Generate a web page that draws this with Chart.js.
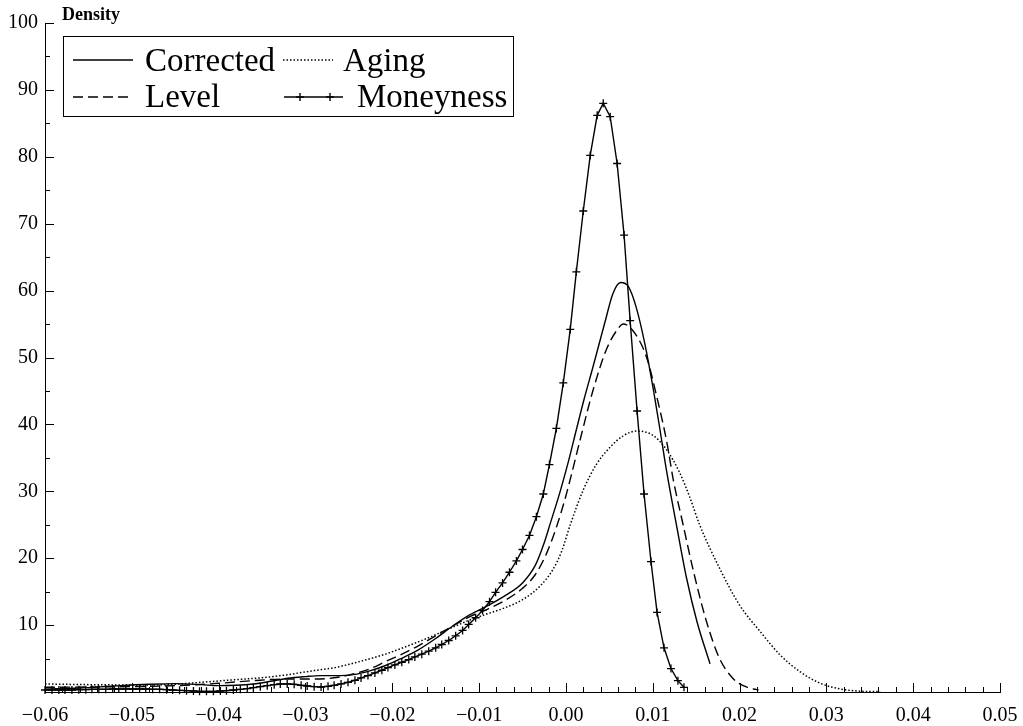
<!DOCTYPE html>
<html>
<head>
<meta charset="utf-8">
<script src="https://cdn.jsdelivr.net/npm/chart.js@4.4.1/dist/chart.umd.min.js"></script>
<style>
  html, body { margin: 0; padding: 0; background: #fff; }
  #wrap { width: 1023px; height: 726px; }
</style>
</head>
<body>
<div id="wrap"><canvas id="grafico" width="1023" height="726"></canvas></div>
<script>
// Eixos
const xTicks = [-0.06, -0.05, -0.04, -0.03, -0.02, -0.01, 0, 0.01, 0.02, 0.03, 0.04, 0.05];
const xTickLabels = ['\u22120.06', '\u22120.05', '\u22120.04', '\u22120.03', '\u22120.02', '\u22120.01', '0.00', '0.01', '0.02', '0.03', '0.04', '0.05'];
const yTicks = [0, 10, 20, 30, 40, 50, 60, 70, 80, 90, 100];
const yTickLabels = ['', '10', '20', '30', '40', '50', '60', '70', '80', '90', '100'];

// Corrected
const xCorr = [-0.0600, -0.0560, -0.0520, -0.0480, -0.0450, -0.0420, -0.0400, -0.0380, -0.0360, -0.0340,
  -0.0320, -0.0300, -0.0283, -0.0265, -0.0245, -0.0225, -0.0207, -0.0190, -0.0170, -0.0150,
  -0.0130, -0.0110, -0.0090, -0.0070, -0.0050, -0.0035, -0.0025, -0.0018, -0.0007, 0.0003,
  0.0012, 0.0021, 0.0031, 0.0045, 0.0054, 0.0063, 0.0072, 0.0081, 0.0091, 0.0101,
  0.0108, 0.0116, 0.0128, 0.0139, 0.0151, 0.0166];
const yCorr = [0.45, 0.6, 0.9, 1.15, 1.25, 1.1, 0.95, 1.0, 1.2, 1.6,
  2.05, 2.3, 2.45, 2.45, 2.6, 3.2, 4.0, 5.0, 6.3, 8.0,
  9.9, 11.6, 12.9, 14.4, 16.3, 19.0, 22.3, 25.2, 29.8, 34.5,
  39.2, 43.8, 48.5, 55.3, 59.5, 61.2, 60.6, 57.5, 52.0, 45.0,
  39.5, 33.0, 24.5, 17.0, 10.5, 4.2];

// Level
const xLevel = [-0.0600, -0.0550, -0.0500, -0.0450, -0.0400, -0.0360, -0.0320, -0.0283, -0.0260, -0.0245,
  -0.0225, -0.0207, -0.0190, -0.0170, -0.0150, -0.0130, -0.0110, -0.0090, -0.0070, -0.0050,
  -0.0035, -0.0022, -0.0010, 0.0001, 0.0016, 0.0031, 0.0047, 0.0060, 0.0066, 0.0079,
  0.0093, 0.0104, 0.0116, 0.0124, 0.0135, 0.0147, 0.0162, 0.0177, 0.0193, 0.0205,
  0.0216, 0.0222];
const yLevel = [0.7, 0.75, 0.8, 0.95, 1.3, 1.7, 1.95, 1.95, 2.25, 2.7,
  3.5, 4.6, 5.6, 6.9, 8.4, 9.9, 11.3, 12.4, 13.7, 15.5,
  17.6, 20.8, 25.0, 29.8, 37.5, 45.0, 51.3, 54.3, 55.0, 53.7,
  50.0, 44.5, 37.5, 31.5, 25.0, 18.0, 10.5, 5.0, 1.95, 0.9,
  0.45, 0.3];

// Aging
const xAging = [-0.0600, -0.0550, -0.0500, -0.0460, -0.0420, -0.0380, -0.0345, -0.0320, -0.0290, -0.0268,
  -0.0245, -0.0207, -0.0190, -0.0170, -0.0153, -0.0130, -0.0110, -0.0090, -0.0070, -0.0050,
  -0.0030, -0.0015, -0.0005, 0.0005, 0.0020, 0.0035, 0.0051, 0.0066, 0.0082, 0.0101,
  0.0116, 0.0131, 0.0143, 0.0154, 0.0177, 0.0200, 0.0224, 0.0247, 0.0270, 0.0293,
  0.0316, 0.0339, 0.0362];
const yAging = [1.2, 1.1, 1.05, 1.1, 1.45, 1.85, 2.2, 2.6, 3.2, 3.6,
  4.3, 5.7, 6.5, 7.5, 8.4, 9.7, 10.8, 11.7, 12.6, 13.8,
  15.8, 18.3, 21.0, 25.0, 30.2, 34.0, 36.6, 38.3, 39.0, 38.3,
  36.2, 32.8, 29.0, 25.0, 18.5, 13.0, 9.0, 5.5, 3.0, 1.3,
  0.45, 0.12, 0.05];

// Moneyness (com marcadores)
const xMoney = [-0.0600, -0.0592, -0.0584, -0.0577, -0.0569, -0.0561, -0.0553, -0.0546, -0.0538, -0.0530,
  -0.0522, -0.0515, -0.0507, -0.0499, -0.0491, -0.0484, -0.0476, -0.0468, -0.0460, -0.0453,
  -0.0445, -0.0437, -0.0429, -0.0422, -0.0414, -0.0406, -0.0398, -0.0391, -0.0383, -0.0375,
  -0.0367, -0.0360, -0.0352, -0.0344, -0.0336, -0.0329, -0.0321, -0.0313, -0.0305, -0.0298,
  -0.0290, -0.0282, -0.0274, -0.0267, -0.0259, -0.0251, -0.0243, -0.0236, -0.0228, -0.0220,
  -0.0212, -0.0205, -0.0197, -0.0189, -0.0181, -0.0174, -0.0166, -0.0158, -0.0150, -0.0143,
  -0.0135, -0.0127, -0.0119, -0.0112, -0.0104, -0.0096, -0.0088, -0.0081, -0.0073, -0.0065,
  -0.0057, -0.0050, -0.0042, -0.0034, -0.0026, -0.0019, -0.0011, -0.0003, 0.0005, 0.0012,
  0.0020, 0.0028, 0.0036, 0.0043, 0.0051, 0.0059, 0.0067, 0.0074, 0.0082, 0.0090,
  0.0098, 0.0105, 0.0113, 0.0121, 0.0129, 0.0136];
const yMoney = [0.3, 0.3, 0.3, 0.3, 0.3, 0.35, 0.35, 0.4, 0.4, 0.4,
  0.45, 0.45, 0.45, 0.45, 0.45, 0.45, 0.4, 0.4, 0.35, 0.3,
  0.25, 0.2, 0.15, 0.1, 0.1, 0.1, 0.15, 0.2, 0.3, 0.4,
  0.5, 0.65, 0.8, 0.95, 1.1, 1.2, 1.2, 1.15, 1.0, 0.9,
  0.8, 0.75, 0.85, 1.0, 1.2, 1.45, 1.75, 2.1, 2.45, 2.85,
  3.25, 3.65, 4.05, 4.45, 4.85, 5.25, 5.65, 6.1, 6.6, 7.1,
  7.7, 8.4, 9.2, 10.1, 11.1, 12.2, 13.5, 14.9, 16.3, 17.9,
  19.6, 21.3, 23.4, 26.2, 29.6, 34.0, 39.4, 46.2, 54.2, 62.8,
  71.9, 80.2, 86.2, 88.0, 86.0, 79.0, 68.3, 55.5, 42.0, 29.6,
  19.5, 11.9, 6.6, 3.5, 1.7, 0.7];

const pares = (xs, ys) => xs.map((x, i) => ({ x: x, y: ys[i] }));

// Ticks internos, título e legenda em caixa
const extras = {
  id: 'extras',
  afterDraw(chart) {
    const ctx = chart.ctx;
    const a = chart.chartArea;
    const sx = chart.scales.x;
    const sy = chart.scales.y;
    ctx.save();
    ctx.strokeStyle = '#000';
    ctx.lineWidth = 1;
    ctx.setLineDash([]);
    ctx.beginPath();
    for (let i = 0; i <= 55; i++) {
      const px = Math.round(sx.getPixelForValue(-0.06 + i * 0.002)) + 0.5;
      const len = i % 5 === 0 ? 9 : 5;
      ctx.moveTo(px, a.bottom);
      ctx.lineTo(px, a.bottom - len);
    }
    for (let i = 0; i <= 20; i++) {
      const py = Math.round(sy.getPixelForValue(i * 5)) + 0.5;
      const len = i % 2 === 0 ? 9 : 5;
      ctx.moveTo(a.left, py);
      ctx.lineTo(a.left + len, py);
    }
    ctx.stroke();

    ctx.fillStyle = '#000';
    ctx.font = 'bold 18px "Liberation Serif"';
    ctx.textBaseline = 'alphabetic';
    ctx.fillText('Density', 62, 20);

    // caixa da legenda
    ctx.fillStyle = '#fff';
    ctx.fillRect(63.5, 36.5, 450, 80);
    ctx.strokeRect(63.5, 36.5, 450, 80);

    const itens = [
      { ds: 0, x: 73, w: 60, y: 60, tx: 145, ty: 71 },
      { ds: 2, x: 283, w: 50, y: 60, tx: 343, ty: 71 },
      { ds: 1, x: 73, w: 60, y: 97, tx: 145, ty: 107 },
      { ds: 3, x: 284, w: 59, y: 97, tx: 357, ty: 107 }
    ];
    ctx.font = '33px "Liberation Serif"';
    itens.forEach(it => {
      const ds = chart.data.datasets[it.ds];
      ctx.lineWidth = ds.borderWidth;
      ctx.setLineDash(ds.borderDash || []);
      ctx.beginPath();
      ctx.moveTo(it.x, it.y);
      ctx.lineTo(it.x + it.w, it.y);
      ctx.stroke();
      if (ds.pointRadius > 0) {
        ctx.setLineDash([]);
        ctx.beginPath();
        [it.x + 16, it.x + 46].forEach(cx => {
          ctx.moveTo(cx - 4, it.y); ctx.lineTo(cx + 4, it.y);
          ctx.moveTo(cx, it.y - 4); ctx.lineTo(cx, it.y + 4);
        });
        ctx.stroke();
      }
      ctx.fillStyle = '#000';
      ctx.fillText(ds.label, it.tx, it.ty);
    });
    ctx.restore();
  }
};

new Chart(document.getElementById('grafico'), {
  type: 'line',
  data: {
    datasets: [
      {
        label: 'Corrected',
        data: pares(xCorr, yCorr),
        borderColor: '#000',
        borderWidth: 1.4,
        cubicInterpolationMode: 'monotone',
        pointRadius: 0,
        fill: false
      },
      {
        label: 'Level',
        data: pares(xLevel, yLevel),
        borderColor: '#000',
        borderWidth: 1.4,
        borderDash: [10, 5],
        cubicInterpolationMode: 'monotone',
        pointRadius: 0,
        fill: false
      },
      {
        label: 'Aging',
        data: pares(xAging, yAging),
        borderColor: '#000',
        borderWidth: 1.5,
        borderDash: [1.5, 2],
        cubicInterpolationMode: 'monotone',
        pointRadius: 0,
        fill: false
      },
      {
        label: 'Moneyness',
        data: pares(xMoney, yMoney),
        borderColor: '#000',
        borderWidth: 1.4,
        tension: 0,
        pointStyle: 'cross',
        pointRadius: 4,
        pointBorderWidth: 1.3,
        pointBorderColor: '#000',
        pointBackgroundColor: '#000',
        clip: 8,
        fill: false
      }
    ]
  },
  options: {
    responsive: false,
    devicePixelRatio: 1,
    animation: false,
    layout: { padding: { top: 23, right: 23, left: 0, bottom: 0 } },
    plugins: {
      legend: { display: false },
      tooltip: { enabled: false }
    },
    scales: {
      x: {
        type: 'linear',
        min: -0.06,
        max: 0.05,
        grid: { display: false, drawTicks: false },
        border: { display: true, color: '#000', width: 1 },
        afterBuildTicks: axis => { axis.ticks = xTicks.map(v => ({ value: v })); },
        afterFit: axis => { axis.height = 34; axis.paddingLeft = 0; axis.paddingRight = 0; },
        ticks: {
          color: '#000',
          padding: 12,
          maxRotation: 0,
          autoSkip: false,
          font: { family: 'Liberation Serif', size: 20 },
          callback: (v, i) => xTickLabels[i]
        }
      },
      y: {
        type: 'linear',
        min: 0,
        max: 100,
        grid: { display: false, drawTicks: false },
        border: { display: true, color: '#000', width: 1 },
        afterBuildTicks: axis => { axis.ticks = yTicks.map(v => ({ value: v })); },
        afterFit: axis => { axis.width = 45; axis.paddingTop = 0; axis.paddingBottom = 0; },
        ticks: {
          color: '#000',
          padding: 7,
          font: { family: 'Liberation Serif', size: 20 },
          callback: (v, i) => yTickLabels[i]
        }
      }
    }
  },
  plugins: [extras]
});
</script>
</body>
</html>
